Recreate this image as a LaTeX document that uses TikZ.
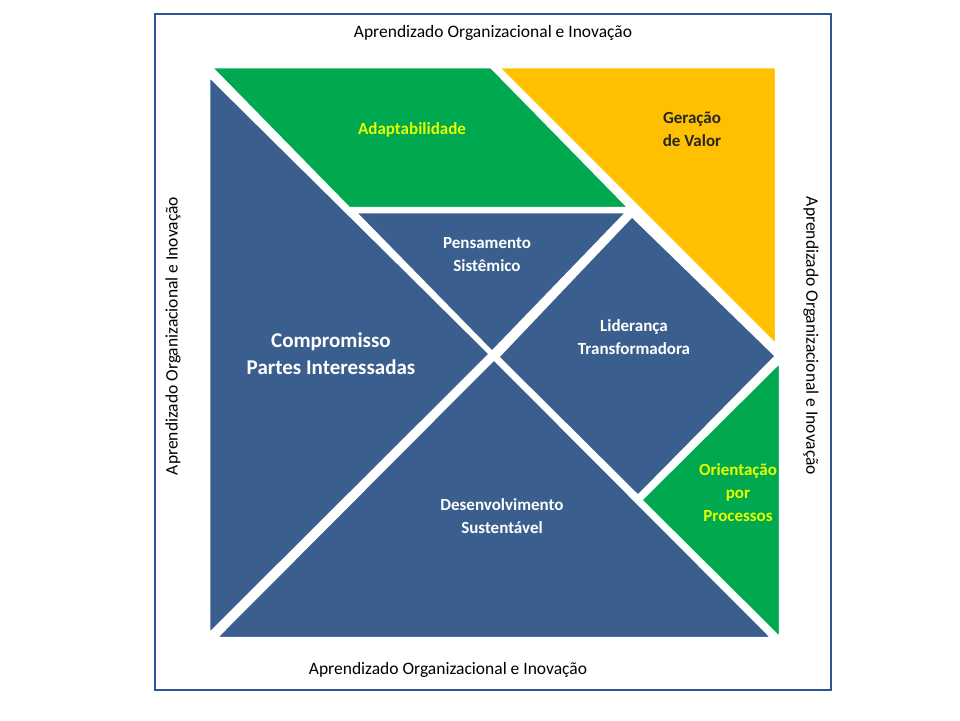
\documentclass[tikz,border=0pt]{standalone}
\usepackage{fontspec}
\setmainfont{Carlito}
\usepackage{tikz}
\definecolor{tanblue}{HTML}{3A5F8E}
\definecolor{tangreen}{HTML}{00A94F}
\definecolor{tanorange}{HTML}{FFC000}
\definecolor{tanyellow}{HTML}{E5FF00}
\definecolor{framecol}{HTML}{2F5496}
\tikzset{
  piece/.style={draw=white,line width=2.5pt,line join=miter},
  sidelbl/.style={font=\fontsize{17.5}{20}\selectfont},
  plbl/.style={font=\bfseries\fontsize{17}{23}\selectfont,align=center,text=white},
}
\begin{document}
\begin{tikzpicture}[x=1pt,y=-1pt]
	\useasboundingbox (0,0) rectangle (960,720);
	\draw[framecol,line width=2pt] (155,14) rectangle (831,690);
	% pieces
	\fill[tanblue,piece]   (209,76) -- (209,634) -- (490,354) -- cycle;
	\fill[tanblue,piece]   (216,638) -- (772,638) -- (494,359) -- cycle;
	\fill[tangreen,piece]  (211,67) -- (491,67) -- (629,208) -- (349,208) -- cycle;
	\fill[tanorange,piece] (498,67) -- (776,67) -- (776,345) -- cycle;
	\fill[tanblue,piece]   (355,212) -- (627,212) -- (492,352) -- cycle;
	\fill[tanblue,piece]   (632,216) -- (776,356) -- (638,496) -- (498,357) -- cycle;
	\fill[tangreen,piece]  (780,362) -- (780,638) -- (641,500) -- cycle;
	% labels
	\node[sidelbl] (top) at (493,33) {Aprendizado Organizacional e Inovação};
	\node[sidelbl] (bottom) at (448,670) {Aprendizado Organizacional e Inovação};
	\node[sidelbl,rotate=90] (left) at (173,336) {Aprendizado Organizacional e Inovação};
	\node[sidelbl,rotate=-90] (right) at (811,336) {Aprendizado Organizacional e Inovação};
	%
	\node[plbl,text=tanyellow] (adapt) at (412,130) {Adaptabilidade};
	\node[plbl,text=black!85] (valor) at (692,129) {Geração\\ de Valor};
	\node[plbl] (pens) at (487,255) {Pensamento\\Sistêmico};
	\node[plbl,font=\bfseries\fontsize{21}{27}\selectfont] (comp) at (331,354) {Compromisso\\Partes Interessadas};
	\node[plbl] (lider) at (634,337) {Liderança\\Transformadora};
	\node[plbl] (desenv) at (502,516) {Desenvolvimento\\Sustentável};
	\node[plbl,text=tanyellow] (orient) at (738,493) {Orientação\\por\\Processos};
\end{tikzpicture}
\end{document}
